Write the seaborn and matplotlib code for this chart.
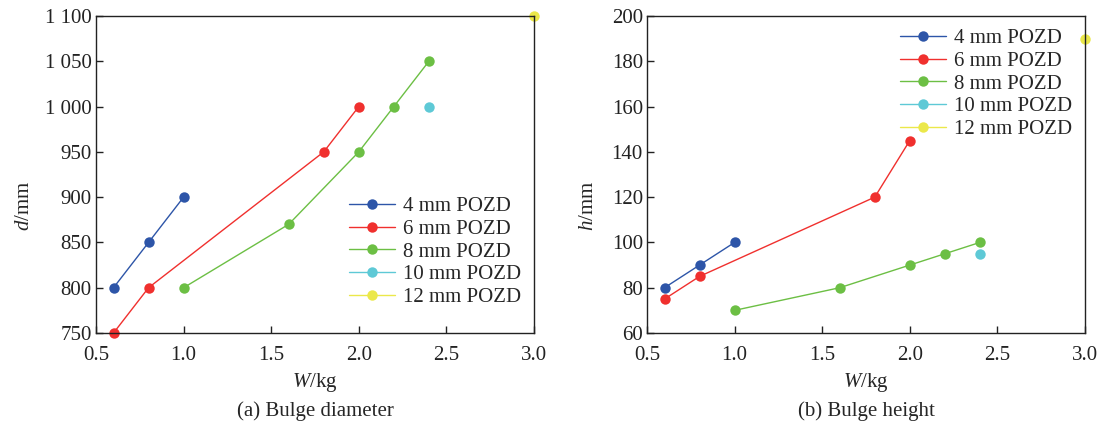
import numpy as np
import pandas as pd
import matplotlib
matplotlib.use('Agg')
import matplotlib.pyplot as plt
import seaborn as sns
from matplotlib.ticker import FuncFormatter

# data
labels = ['4 mm POZD', '6 mm POZD', '8 mm POZD', '10 mm POZD', '12 mm POZD']
w_4 = [0.6, 0.8, 1.0]
w_6 = [0.6, 0.8, 1.8, 2.0]
w_8 = [1.0, 1.6, 2.0, 2.2, 2.4]
w_10 = [2.4]
w_12 = [3.0]
d_4 = [800, 850, 900]
d_6 = [750, 800, 950, 1000]
d_8 = [800, 870, 950, 1000, 1050]
d_10 = [1000]
d_12 = [1100]
h_4 = [80, 90, 100]
h_6 = [75, 85, 120, 145]
h_8 = [70, 80, 90, 95, 100]
h_10 = [95]
h_12 = [190]
colors = ['#2d55a8', '#f0302e', '#6cbf44', '#5ec9d6', '#ebe84a']

ws = [w_4, w_6, w_8, w_10, w_12]
ds = [d_4, d_6, d_8, d_10, d_12]
hs = [h_4, h_6, h_8, h_10, h_12]
rows = []
for lab, w, d, h in zip(labels, ws, ds, hs):
    for a, b, c in zip(w, d, h):
        rows.append({'group': lab, 'W': a, 'd': b, 'h': c})
df = pd.DataFrame(rows)

sns.set_style('ticks')
plt.rcParams['font.family'] = ['Liberation Serif', 'DejaVu Serif']
plt.rcParams['mathtext.fontset'] = 'custom'
plt.rcParams['mathtext.rm'] = 'Liberation Serif'
plt.rcParams['mathtext.it'] = 'Liberation Serif:italic'
plt.rcParams['font.size'] = 15

fig = plt.figure(figsize=(11.01, 4.25), dpi=100)
ax1 = fig.add_axes([96/1101, 1-333/425, (534-96)/1101, (333-16)/425])
ax2 = fig.add_axes([647/1101, 1-333/425, (1085-647)/1101, (333-16)/425])

pal = dict(zip(labels, colors))


def draw(ax, ycol):
    for lab in labels:
        sub = df[df['group'] == lab]
        sns.lineplot(data=sub, x='W', y=ycol, ax=ax, color=pal[lab], marker='o',
                     markersize=7.5, markeredgewidth=0, linewidth=1.0,
                     label=lab, sort=False, clip_on=False)
    for sp in ax.spines.values():
        sp.set_linewidth(1.0)
        sp.set_color('#222222')
        sp.set_visible(True)
    ax.tick_params(direction='in', length=5, width=1, labelsize=15, colors='#222222')
    ax.tick_params(axis='x', pad=9)
    ax.tick_params(axis='y', pad=3)
    ax.set_xlim(0.5, 3.0)
    ax.set_xticks(np.arange(0.5, 3.01, 0.5))
    ax.xaxis.set_major_formatter(FuncFormatter(lambda v, p: f'{v:.1f}'))
    ax.set_xlabel(r'$W$/kg', fontsize=15, labelpad=5)


draw(ax1, 'd')
ax1.set_ylim(750, 1100)
ax1.set_yticks(np.arange(750, 1101, 50))
ax1.yaxis.set_major_formatter(FuncFormatter(
    lambda v, p: f'{int(v):,}'.replace(',', ' ')))
ax1.set_ylabel(r'$d$/mm', fontsize=15)
ax1.yaxis.set_label_coords(-0.142, 0.40)
ax1.legend(loc='upper right', bbox_to_anchor=(1.0, 0.47), frameon=False,
           fontsize=15, handlelength=2.2, handletextpad=0.4, labelspacing=0.15,
           borderaxespad=0.2)
ax1.text(0.5, -0.246, '(a) Bulge diameter', transform=ax1.transAxes,
         ha='center', va='center', fontsize=15)

draw(ax2, 'h')
ax2.set_ylim(60, 200)
ax2.set_yticks(np.arange(60, 201, 20))
ax2.set_ylabel(r'$h$/mm', fontsize=15)
ax2.yaxis.set_label_coords(-0.112, 0.40)
ax2.legend(loc='upper right', frameon=False, fontsize=15, handlelength=2.2,
           handletextpad=0.4, labelspacing=0.15, borderaxespad=0.2)
ax2.text(0.5, -0.246, '(b) Bulge height', transform=ax2.transAxes,
         ha='center', va='center', fontsize=15)

fig.savefig('out.png', dpi=100)
